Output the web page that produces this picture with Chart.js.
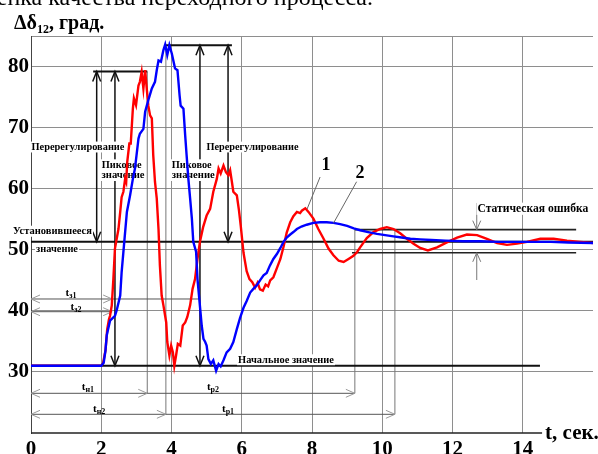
<!DOCTYPE html>
<html lang="ru">
<head>
    <meta charset="UTF-8">
    <title>Переходный процесс</title>
    <script src="https://cdn.jsdelivr.net/npm/chart.js"></script>
    <style>
        body { margin: 0; background: #fff; }
        #wrap { width: 598px; height: 454px; }
    </style>
</head>
<body>
<div id="wrap"><canvas id="chart" width="598" height="454"></canvas></div>
<script>
    // curve 1 (red)
    const redTime = [0, 1.0, 2.0, 2.05, 2.12, 2.17, 2.22, 2.25, 2.3, 2.345, 2.39, 2.44, 2.49, 2.54, 2.58, 2.63, 2.68, 2.71, 2.74, 2.8, 2.84, 2.9, 2.93, 2.99, 3.06, 3.1, 3.15, 3.2, 3.25, 3.3, 3.34, 3.39, 3.44, 3.48, 3.53, 3.58, 3.63, 3.67, 3.72, 3.77, 3.85, 3.88, 3.94, 3.99, 4.04, 4.08, 4.13, 4.18, 4.25, 4.32, 4.39, 4.45, 4.53, 4.6, 4.67, 4.74, 4.81, 4.9, 5.0, 5.1, 5.19, 5.29, 5.34, 5.4, 5.48, 5.55, 5.62, 5.67, 5.72, 5.76, 5.86, 5.92, 5.97, 6.05, 6.14, 6.22, 6.3, 6.38, 6.45, 6.52, 6.6, 6.68, 6.75, 6.81, 6.9, 7.0, 7.1, 7.19, 7.28, 7.38, 7.47, 7.57, 7.66, 7.71, 7.81, 7.9, 8.04, 8.18, 8.33, 8.47, 8.61, 8.76, 8.9, 9.04, 9.18, 9.28, 9.37, 9.56, 9.75, 9.94, 10.13, 10.32, 10.51, 10.7, 10.89, 11.08, 11.3, 11.56, 11.84, 12.13, 12.41, 12.7, 12.98, 13.27, 13.55, 13.84, 14.12, 14.5, 14.88, 15.26, 15.64, 16.0];
    const redValue = [31.0, 31.0, 31.0, 31.4, 33.5, 37.0, 38.6, 39.2, 40.9, 45.2, 50.2, 51.8, 53.4, 56.2, 58.6, 59.5, 61.6, 61.1, 64.4, 67.4, 67.4, 73.1, 74.8, 73.7, 76.9, 77.5, 79.1, 76.4, 79.4, 76.1, 73.6, 72.0, 71.5, 65.5, 61.1, 58.4, 53.4, 47.4, 42.5, 40.9, 38.1, 34.9, 32.7, 34.3, 33.2, 31.0, 32.7, 34.6, 34.3, 37.6, 38.1, 39.0, 40.9, 43.6, 45.2, 48.5, 51.3, 53.7, 55.6, 56.7, 59.5, 61.6, 63.3, 62.5, 63.8, 62.7, 62.2, 63.0, 61.1, 59.5, 58.9, 56.5, 54.0, 49.5, 46.5, 45.2, 44.7, 43.8, 44.6, 43.5, 43.3, 44.3, 44.0, 45.0, 45.5, 47.0, 48.5, 50.5, 52.8, 54.5, 55.5, 56.2, 56.0, 56.4, 56.8, 56.2, 55.1, 53.4, 51.8, 50.2, 49.1, 48.2, 48.0, 48.5, 49.0, 49.6, 50.4, 51.9, 52.9, 53.4, 53.7, 53.4, 52.7, 51.8, 51.0, 50.3, 49.9, 50.4, 51.2, 52.0, 52.5, 52.4, 51.8, 51.1, 50.8, 51.0, 51.3, 51.8, 51.8, 51.5, 51.3, 51.1];

    // curve 2 (blue)
    const blueTime = [0, 1.0, 2.0, 2.07, 2.12, 2.157, 2.25, 2.39, 2.44, 2.54, 2.58, 2.63, 2.73, 2.82, 2.9, 2.96, 3.06, 3.1, 3.2, 3.25, 3.34, 3.44, 3.53, 3.58, 3.63, 3.7, 3.77, 3.82, 3.88, 3.94, 4.01, 4.1, 4.17, 4.23, 4.26, 4.34, 4.39, 4.43, 4.48, 4.53, 4.58, 4.62, 4.7, 4.74, 4.8, 4.86, 4.91, 4.96, 5.0, 5.05, 5.12, 5.19, 5.27, 5.34, 5.4, 5.48, 5.57, 5.67, 5.76, 5.86, 5.95, 6.05, 6.14, 6.24, 6.33, 6.43, 6.52, 6.62, 6.71, 6.8, 6.9, 7.0, 7.1, 7.19, 7.28, 7.38, 7.47, 7.57, 7.7, 7.85, 8.04, 8.23, 8.42, 8.61, 8.8, 9.0, 9.19, 9.37, 9.6, 9.85, 10.08, 10.32, 10.55, 10.8, 11.08, 11.4, 11.8, 12.3, 12.8, 13.3, 13.8, 14.3, 14.8, 15.3, 16.0];
    const blueValue = [31.0, 31.0, 31.0, 31.5, 33.5, 36.0, 38.4, 39.2, 40.1, 42.5, 46.3, 49.6, 56.2, 58.9, 61.6, 63.3, 68.2, 69.0, 69.8, 72.6, 74.5, 76.4, 77.5, 79.4, 81.0, 80.8, 82.7, 83.6, 81.9, 83.5, 82.1, 79.7, 79.4, 75.3, 73.6, 73.1, 68.7, 65.5, 61.6, 58.4, 55.1, 51.3, 49.7, 45.2, 41.4, 37.6, 35.4, 34.9, 34.3, 32.1, 31.3, 31.9, 30.2, 31.3, 30.9, 31.9, 33.2, 33.8, 34.9, 37.0, 38.8, 40.5, 41.6, 43.0, 43.6, 44.2, 45.0, 45.8, 46.2, 47.4, 48.5, 49.3, 50.3, 51.3, 52.0, 52.5, 52.9, 53.4, 53.8, 54.1, 54.4, 54.5, 54.5, 54.4, 54.2, 53.9, 53.5, 53.2, 52.9, 52.6, 52.4, 52.2, 52.0, 51.8, 51.7, 51.6, 51.5, 51.4, 51.4, 51.3, 51.3, 51.3, 51.3, 51.2, 51.1];

    // tick labels
    const xTickLabels = [0, 2, 4, 6, 8, 10, 12, 14];
    const yTickLabels = [30, 40, 50, 60, 70, 80];

    // key levels of the process
    const initialLevel = 31.0;
    const steadyLevel = 51.3;
    const bandHigh = 53.3;
    const bandLow = 49.5;
    const peakRed = 79.2;
    const peakBlue = 83.5;

    const SERIF = '"Liberation Serif", "Times New Roman", serif';

    const redPoints = redTime.map((t, i) => ({ x: t, y: redValue[i] }));
    const bluePoints = blueTime.map((t, i) => ({ x: t, y: blueValue[i] }));

    function seg(ctx, x1, y1, x2, y2, color, w) {
        ctx.save();
        ctx.strokeStyle = color;
        ctx.lineWidth = w;
        ctx.beginPath();
        ctx.moveTo(x1, y1);
        ctx.lineTo(x2, y2);
        ctx.stroke();
        ctx.restore();
    }

    // open chevron head with its tip at (x, y)
    function head(ctx, x, y, dir, color, len, half, w) {
        const d = { up: [0, 1], down: [0, -1], left: [1, 0], right: [-1, 0] }[dir];
        const bx = x + d[0] * len, by = y + d[1] * len;
        const nx = d[1] * half, ny = d[0] * half;
        ctx.save();
        ctx.strokeStyle = color;
        ctx.lineWidth = w;
        ctx.beginPath();
        ctx.moveTo(bx + nx, by + ny);
        ctx.lineTo(x, y);
        ctx.lineTo(bx - nx, by - ny);
        ctx.stroke();
        ctx.restore();
    }

    // fitted bold caption centred at (cx, cy)
    function caption(ctx, text, cx, cy, width, bg) {
        ctx.save();
        ctx.font = 'bold 10px ' + SERIF;
        const size = 10 * width / ctx.measureText(text).width;
        ctx.font = 'bold ' + size.toFixed(2) + 'px ' + SERIF;
        if (bg) {
            ctx.fillStyle = '#fff';
            ctx.fillRect(cx - width / 2 - 1, cy - size * 0.55, width + 2, size * 1.05);
        }
        ctx.fillStyle = '#000';
        ctx.textAlign = 'center';
        ctx.textBaseline = 'middle';
        ctx.fillText(text, cx, cy);
        ctx.restore();
    }

    // "t" with a subscript
    function tLabel(ctx, sub, cx, cy) {
        ctx.save();
        ctx.fillStyle = '#000';
        ctx.textBaseline = 'alphabetic';
        ctx.font = 'bold 11px ' + SERIF;
        const w1 = ctx.measureText('t').width;
        ctx.font = 'bold 8px ' + SERIF;
        const w2 = ctx.measureText(sub).width;
        const x0 = cx - (w1 + w2) / 2;
        ctx.font = 'bold 11px ' + SERIF;
        ctx.fillText('t', x0, cy + 4);
        ctx.font = 'bold 8px ' + SERIF;
        ctx.fillText(sub, x0 + w1, cy + 6);
        ctx.restore();
    }

    const marksPlugin = {
        id: 'marks',
        beforeDatasetsDraw(chart) {
            const { ctx, scales: { x, y } } = chart;
            const X = v => x.getPixelForValue(v), Y = v => y.getPixelForValue(v);
            const thin = '#555', headGray = '#9a9a9a', black = '#111';

            // thin vertical guides
            seg(ctx, X(3.31), Y(peakRed), X(3.31), Y(26.5), '#777', 1);
            seg(ctx, X(3.84), Y(peakBlue), X(3.84), Y(23.06), '#777', 1);
            seg(ctx, X(9.22), Y(bandHigh), X(9.22), Y(26.5), '#777', 1);
            seg(ctx, X(10.36), Y(bandHigh), X(10.36), Y(23.06), '#777', 1);

            // time intervals
            const spans = [
                [0, 2.31, 41.94, true], [0, 2.31, 39.86, true],
                [0, 3.31, 26.5, true], [0, 3.84, 23.06, true],
                [3.31, 9.22, 26.5, false], [3.84, 10.36, 23.06, false]
            ];
            spans.forEach(([a, b, v, both]) => {
                seg(ctx, X(a), Y(v), X(b), Y(v), thin, 1);
                head(ctx, X(b), Y(v), 'right', headGray, 9, 4, 1);
                if (both) head(ctx, X(a), Y(v), 'left', headGray, 9, 4, 1);
            });
            seg(ctx, X(2.31), Y(41.94), X(4.81), Y(41.94), thin, 1);

            // level lines
            seg(ctx, X(0), Y(initialLevel), X(14.49), Y(initialLevel), black, 2);
            seg(ctx, X(0), Y(steadyLevel), X(16), Y(steadyLevel), black, 2);
            seg(ctx, X(9.22), Y(bandHigh), X(15.52), Y(bandHigh), '#222', 1.6);
            seg(ctx, X(9.14), Y(bandLow), X(15.52), Y(bandLow), '#222', 1.6);
            seg(ctx, X(1.77), Y(peakRed), X(3.31), Y(peakRed), black, 2);
            seg(ctx, X(3.81), Y(peakBlue), X(5.72), Y(peakBlue), black, 2);

            // overshoot and peak arrows
            [[1.87, steadyLevel, peakRed], [2.39, initialLevel, peakRed],
             [4.81, initialLevel, peakBlue], [5.61, steadyLevel, peakBlue]].forEach(([t, lo, hi]) => {
                seg(ctx, X(t), Y(lo), X(t), Y(hi), black, 1.5);
                head(ctx, X(t), Y(hi), 'up', black, 10, 4, 1.5);
                head(ctx, X(t), Y(lo), 'down', black, 10, 4, 1.5);
            });

            // static error arrows
            seg(ctx, X(12.69), Y(57.66), X(12.69), Y(bandHigh), '#777', 1);
            head(ctx, X(12.69), Y(bandHigh), 'down', '#777', 9, 4, 1);
            seg(ctx, X(12.69), Y(45.05), X(12.69), Y(bandLow), '#777', 1);
            head(ctx, X(12.69), Y(bandLow), 'up', '#777', 9, 4, 1);

            // captions
            caption(ctx, 'Перерегулирование', X(1.338), Y(66.78), 93, true);
            caption(ctx, 'Перерегулирование', X(6.306), Y(66.78), 92, true);
            caption(ctx, 'Пиковое', X(2.582), Y(63.88), 40, true);
            caption(ctx, 'значение', X(2.619), Y(62.13), 43, true);
            caption(ctx, 'Пиковое', X(4.575), Y(63.88), 40, true);
            caption(ctx, 'значение', X(4.621), Y(62.13), 43, true);
            caption(ctx, 'Установившееся', X(0.612), Y(52.99), 79, true);
            caption(ctx, 'значение', X(0.74), Y(50.12), 42, true);
            caption(ctx, 'Начальное значение', X(7.26), Y(31.95), 96, true);
            caption(ctx, 'Статическая ошибка', X(14.29), Y(56.67), 111, true);

            tLabel(ctx, 'з1', X(1.14), Y(43.13));
            tLabel(ctx, 'з2', X(1.28), Y(40.79));
            tLabel(ctx, 'н1', X(1.62), Y(27.7));
            tLabel(ctx, 'н2', X(1.94), Y(24.04));
            tLabel(ctx, 'р2', X(5.18), Y(27.7));
            tLabel(ctx, 'р1', X(5.61), Y(24.04));
        },
        afterDatasetsDraw(chart) {
            const { ctx, chartArea, scales: { x, y } } = chart;
            const X = v => x.getPixelForValue(v), Y = v => y.getPixelForValue(v);

            // curve numbers with leaders
            seg(ctx, X(8.23), Y(61.91), X(7.86), Y(56.67), '#666', 1);
            seg(ctx, X(9.27), Y(61.14), X(8.61), Y(54.33), '#666', 1);
            ctx.save();
            ctx.fillStyle = '#000';
            ctx.font = 'bold 18px ' + SERIF;
            ctx.textAlign = 'center';
            ctx.textBaseline = 'middle';
            ctx.fillText('1', X(8.4), Y(63.88));
            ctx.fillText('2', X(9.37), Y(62.57));
            ctx.restore();

            // time axis line and its name
            seg(ctx, X(0), chartArea.bottom, X(14.55), chartArea.bottom, '#222', 1.5);
            ctx.save();
            ctx.fillStyle = '#000';
            ctx.font = 'bold 21px ' + SERIF;
            ctx.textBaseline = 'alphabetic';
            ctx.fillText('t, сек.', X(14.55) + 3, chartArea.bottom + 6);

            // value axis name
            ctx.font = 'bold 20px ' + SERIF;
            let px = 14;
            ctx.fillText('Δδ', px, 29);
            px += ctx.measureText('Δδ').width;
            ctx.font = 'bold 12px ' + SERIF;
            ctx.fillText('12', px, 33);
            px += ctx.measureText('12').width;
            ctx.font = 'bold 20px ' + SERIF;
            ctx.fillText(', град.', px, 29);

            // cut caption of the figure above
            ctx.font = '24px ' + SERIF;
            ctx.textAlign = 'right';
            ctx.fillText('Оценка качества переходного процесса.', 373, 5);
            ctx.restore();
        }
    };

    const gridGray = '#8e8e8e';

    new Chart(document.getElementById('chart').getContext('2d'), {
        type: 'line',
        data: {
            datasets: [
                { label: '1', data: redPoints, order: 1, borderColor: '#ff0000', borderWidth: 2.4, pointRadius: 0, tension: 0 },
                { label: '2', data: bluePoints, order: 0, borderColor: '#0000ff', borderWidth: 2.4, pointRadius: 0, tension: 0 }
            ]
        },
        options: {
            responsive: false,
            animation: false,
            layout: { padding: { top: 36, right: 5, left: 0, bottom: 0 } },
            plugins: { legend: { display: false }, tooltip: { enabled: false } },
            scales: {
                x: {
                    type: 'linear',
                    min: 0,
                    max: 16,
                    afterFit: scale => { scale.height = 21; },
                    border: { display: false },
                    grid: {
                        drawTicks: false,
                        color: c => (c.tick && (c.tick.value === 0 || c.tick.value === 16)) ? 'rgba(0,0,0,0)' : gridGray
                    },
                    ticks: {
                        stepSize: 2,
                        autoSkip: false,
                        maxRotation: 0,
                        padding: 4,
                        color: '#000',
                        font: { family: SERIF, size: 21, weight: 'bold' },
                        callback: v => xTickLabels.includes(v) ? String(v) : ''
                    }
                },
                y: {
                    min: 20,
                    max: 85,
                    afterFit: scale => { scale.width = 31; },
                    border: { display: true, color: '#444', width: 1 },
                    grid: {
                        drawTicks: false,
                        color: c => (c.tick && c.tick.value === 20) ? 'rgba(0,0,0,0)' : gridGray
                    },
                    ticks: {
                        stepSize: 10,
                        padding: 2,
                        color: '#000',
                        font: { family: SERIF, size: 21, weight: 'bold' },
                        callback: v => yTickLabels.includes(v) ? String(v) : ''
                    }
                }
            }
        },
        plugins: [marksPlugin]
    });
</script>
</body>
</html>
